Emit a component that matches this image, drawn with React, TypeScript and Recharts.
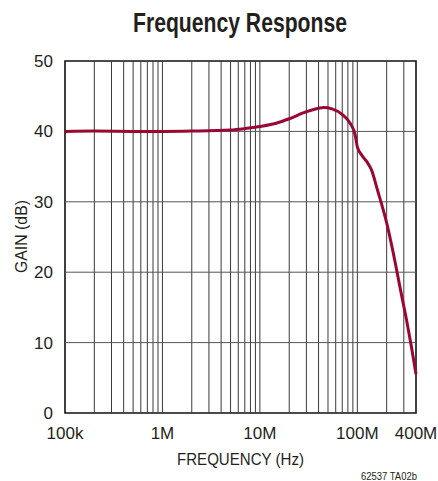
import { LineChart, Line, XAxis, YAxis, ReferenceLine, ReferenceArea } from 'recharts';

// frequency (Hz) and gain (dB)
const freqs = [
  1e5, 2e5, 5e5, 1e6, 2e6, 5e6, 7e6, 1e7, 1.5e7, 2e7, 3e7, 4e7, 4.5e7, 5.5e7, 7e7, 8.4e7,
  9.5e7, 1e8, 1.1e8, 1.25e8, 1.4e8, 1.6e8, 2e8, 2.3e8, 2.8e8, 3.2e8, 3.6e8, 4e8
];
const gains = [
  40.0, 40.05, 40.0, 40.0, 40.05, 40.2, 40.4, 40.7, 41.2, 41.8, 42.8, 43.3, 43.4, 43.2, 42.4, 41.2,
  39.5, 37.8, 36.7, 35.7, 34.5, 31.8, 27.0, 23.2, 17.2, 13.2, 9.3, 5.5
];

const xTicks = [1e5, 1e6, 1e7, 1e8, 4e8];
const xTickLabels = ['100k', '1M', '10M', '100M', '400M'];
const yTicks = [0, 10, 20, 30, 40, 50];
const gridFreqs = [
  2e5, 3e5, 4e5, 5e5, 6e5, 7e5, 8e5, 9e5, 1e6,
  2e6, 3e6, 4e6, 5e6, 6e6, 7e6, 8e6, 9e6, 1e7,
  2e7, 3e7, 4e7, 5e7, 6e7, 7e7, 8e7, 9e7, 1e8,
  2e8, 3e8
];
const gridGains = [10, 20, 30, 40];

const font = "'Liberation Sans Narrow', 'Arial Narrow', 'Liberation Sans', sans-serif";

export default function App() {
  const data = freqs.map((f, i) => ({ f, gain: gains[i] }));

  return (
    <div style={{ position: 'fixed', left: 0, top: 0, width: 438, height: 481, background: '#fff' }}>
      <LineChart width={438} height={481} data={data} margin={{ top: 61, right: 22, left: 0, bottom: 0 }}>
        <XAxis
          dataKey="f"
          type="number"
          scale="log"
          domain={[1e5, 4e8]}
          ticks={xTicks}
          tickFormatter={(v) => xTickLabels[xTicks.indexOf(v)] ?? ''}
          height={68}
          axisLine={false}
          tickLine={false}
          tickMargin={8}
          interval={0}
          tick={{ fill: '#231f20', fontSize: 17, fontFamily: font }}
        />
        <YAxis
          type="number"
          domain={[0, 50]}
          ticks={yTicks}
          width={65}
          axisLine={false}
          tickLine={false}
          tickMargin={6}
          interval={0}
          tick={{ fill: '#231f20', fontSize: 17, fontFamily: font }}
        />
        {gridFreqs.map((f) => (
          <ReferenceLine key={'v' + f} x={f} stroke="#3a3a3a" strokeWidth={1} />
        ))}
        {gridGains.map((g) => (
          <ReferenceLine key={'h' + g} y={g} stroke="#555" strokeWidth={1} />
        ))}
        <ReferenceArea
          x1={1e5}
          x2={4e8}
          y1={0}
          y2={50}
          fill="none"
          fillOpacity={0}
          stroke="#111"
          strokeWidth={1.6}
          ifOverflow="visible"
        />
        <Line
          dataKey="gain"
          type="monotone"
          stroke="#990733"
          strokeWidth={3}
          dot={false}
          isAnimationActive={false}
        />
      </LineChart>
      <svg width={438} height={481} style={{ position: 'absolute', left: 0, top: 0, pointerEvents: 'none' }}>
        <text x={133} y={32} textLength={214} lengthAdjust="spacingAndGlyphs" fontFamily={font} fontWeight="bold" fontSize={27} fill="#231f20">
          Frequency Response
        </text>
        <text x={177} y={465} textLength={127} lengthAdjust="spacingAndGlyphs" fontFamily={font} fontSize={17} fill="#231f20">
          FREQUENCY (Hz)
        </text>
        <text
          x={-36.5}
          y={0}
          transform="translate(27 236.5) rotate(-90)"
          textLength={73}
          lengthAdjust="spacingAndGlyphs"
          fontFamily={font}
          fontSize={17}
          fill="#231f20"
        >
          GAIN (dB)
        </text>
        <text x={361} y={480} textLength={56} lengthAdjust="spacingAndGlyphs" fontFamily={font} fontSize={10} fill="#231f20">
          62537 TA02b
        </text>
      </svg>
    </div>
  );
}
